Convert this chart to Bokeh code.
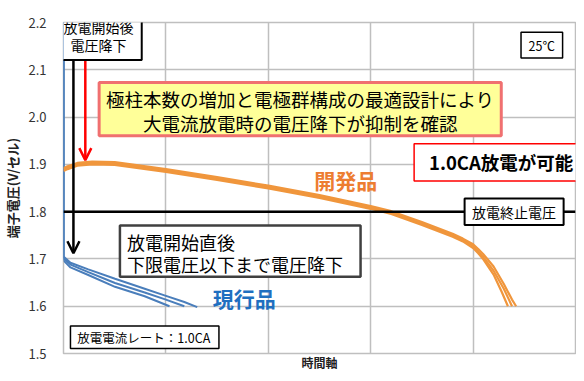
from bokeh.plotting import figure
from bokeh.models import (Range1d, FixedTicker, Label, Span, Arrow, OpenHead, BoxAnnotation)
from bokeh.embed import file_html
from bokeh.resources import INLINE

# ---------------- data ----------------
# time axis in arbitrary grid units (0..5), voltage in V/cell
Y_TICKS = [1.5, 1.6, 1.7, 1.8, 1.9, 2.0, 2.1, 2.2]
Y_TICK_LABELS = ["1.5", "1.6", "1.7", "1.8", "1.9", "2.0", "2.1", "2.2"]
X_GRID = [0, 1, 2, 3, 4, 5]
CUTOFF_V = 1.8

# 開発品 (new product) - three cells
dev_x1 = [0.0, 0.04, 0.135, 0.28, 0.5, 1.0, 1.5, 2.0, 2.5, 3.0, 3.2, 3.5, 3.8, 3.9, 4.0, 4.05, 4.1, 4.2, 4.28, 4.34]
dev_v1 = [1.886, 1.890, 1.897, 1.900, 1.899, 1.884, 1.867, 1.849, 1.829, 1.806, 1.795, 1.772, 1.747, 1.737, 1.723, 1.712, 1.699, 1.667, 1.630, 1.600]
dev_x2 = [0.0, 0.04, 0.135, 0.28, 0.5, 1.0, 1.5, 2.0, 2.5, 3.0, 3.2, 3.5, 3.8, 3.9, 4.0, 4.05, 4.1, 4.2, 4.3, 4.35, 4.38]
dev_v2 = [1.889, 1.893, 1.900, 1.903, 1.902, 1.887, 1.870, 1.852, 1.832, 1.809, 1.798, 1.775, 1.750, 1.740, 1.727, 1.716, 1.704, 1.675, 1.637, 1.614, 1.600]
dev_x3 = [0.0, 0.04, 0.135, 0.28, 0.5, 1.0, 1.5, 2.0, 2.5, 3.0, 3.2, 3.5, 3.8, 3.9, 4.0, 4.05, 4.1, 4.2, 4.3, 4.38, 4.42]
dev_v3 = [1.892, 1.896, 1.903, 1.906, 1.905, 1.890, 1.873, 1.855, 1.835, 1.812, 1.801, 1.778, 1.753, 1.743, 1.731, 1.721, 1.710, 1.684, 1.647, 1.614, 1.600]

# 現行品 (current product) - three cells
cur_x1 = [0.0, 0.0, 0.068, 0.242, 0.503, 0.793, 1.035]
cur_v1 = [2.2, 1.697, 1.682, 1.666, 1.641, 1.621, 1.600]
cur_x2 = [0.0, 0.0, 0.068, 0.242, 0.503, 0.793, 0.986, 1.18]
cur_v2 = [2.2, 1.701, 1.688, 1.672, 1.649, 1.629, 1.615, 1.600]
cur_x3 = [0.0, 0.0, 0.068, 0.242, 0.503, 0.793, 0.986, 1.18, 1.306]
cur_v3 = [2.2, 1.705, 1.692, 1.678, 1.658, 1.637, 1.623, 1.609, 1.598]

JP = "Noto Sans CJK JP"
ORANGE = "#F0963C"
BLUE = "#4A7EBB"

p = figure(width=576, height=373, output_backend="svg", toolbar_location=None,
           x_range=Range1d(0, 5), y_range=Range1d(1.5, 2.2),
           min_border_left=58, min_border_right=1, min_border_top=22, min_border_bottom=15,
           background_fill_color="white", border_fill_color="white")
p.outline_line_color = "#BFBFBF"
p.outline_line_width = 1.5

# x axis: title only
p.xaxis.ticker = FixedTicker(ticks=[])
p.xaxis.axis_line_color = None
p.xaxis.major_tick_out = 0
p.xaxis.major_tick_in = 0
p.xaxis.minor_tick_out = 0
p.xaxis.minor_tick_in = 0
p.xaxis.major_label_text_font_size = "1px"
p.xaxis.major_label_standoff = 0
p.xaxis.axis_label = "時間軸"
p.xaxis.axis_label_standoff = 0
p.xaxis.axis_label_text_font = JP
p.xaxis.axis_label_text_font_size = "12px"
p.xaxis.axis_label_text_font_style = "bold"
p.xaxis.axis_label_text_color = "#222222"

# y axis
p.yaxis.ticker = FixedTicker(ticks=Y_TICKS)
p.yaxis.major_label_overrides = {t: l for t, l in zip(Y_TICKS, Y_TICK_LABELS)}
p.yaxis.major_tick_out = 0
p.yaxis.major_tick_in = 0
p.yaxis.minor_tick_out = 0
p.yaxis.minor_tick_in = 0
p.yaxis.axis_line_color = None
p.yaxis.major_label_standoff = 17
p.yaxis.major_label_text_font = JP
p.yaxis.major_label_text_font_size = "13px"
p.yaxis.major_label_text_color = "#333333"
p.yaxis.axis_label = "端子電圧(V/セル)"
p.yaxis.axis_label_standoff = 3
p.yaxis.axis_label_text_font = JP
p.yaxis.axis_label_text_font_size = "13px"
p.yaxis.axis_label_text_font_style = "bold"
p.yaxis.axis_label_text_color = "#222222"

p.xgrid.ticker = FixedTicker(ticks=X_GRID)
p.ygrid.ticker = FixedTicker(ticks=Y_TICKS)
p.xgrid.grid_line_color = "#BFBFBF"
p.ygrid.grid_line_color = "#BFBFBF"
p.xgrid.grid_line_width = 1.5
p.ygrid.grid_line_width = 1.5

# cutoff voltage line
p.add_layout(Span(location=CUTOFF_V, dimension="width", line_color="black", line_width=2.5))

# curves
for xs, vs in [(cur_x1, cur_v1), (cur_x2, cur_v2), (cur_x3, cur_v3)]:
    p.line(xs, vs, line_color=BLUE, line_width=2)
for xs, vs in [(dev_x1, dev_v1), (dev_x2, dev_v2), (dev_x3, dev_v3)]:
    p.line(xs, vs, line_color=ORANGE, line_width=2.2)

# arrows
p.add_layout(Arrow(end=OpenHead(size=12, line_width=2.5, line_color="black"),
                   x_start=0.097, y_start=2.121, x_end=0.097, y_end=1.712,
                   line_color="black", line_width=2.5))
p.add_layout(Arrow(end=OpenHead(size=12, line_width=2.5, line_color="#FF0000"),
                   x_start=0.213, y_start=2.121, x_end=0.213, y_end=1.909,
                   line_color="#FF0000", line_width=2.5))


def rect(l, r, t, b, fill="white", line="black", lw=1.5):
    p.add_layout(BoxAnnotation(left=l, right=r, top=t, bottom=b,
                               fill_color=fill, fill_alpha=1.0,
                               line_color=line, line_width=lw, line_alpha=1.0))


def text(s, x, y, size, align="left", baseline="middle", bold=False, color="black", lh=1.2):
    p.add_layout(Label(x=x, y=y, text=s, text_font=JP, text_font_size=size,
                       text_align=align, text_baseline=baseline, text_color=color,
                       text_font_style="bold" if bold else "normal",
                       text_line_height=lh))


# 放電開始後 電圧降下
rect(-0.077, 0.764, 2.2146, 2.1208, lw=2)
text("放電開始後\n電圧降下", 0.343, 2.1708, "14px", align="center", lh=0.89)

# yellow message box
rect(0.348, 4.275, 2.0729, 1.9604, fill="#FFFF99", line="#F07070", lw=3)
text("極柱本数の増加と電極群構成の最適設計により\n大電流放電時の電圧降下が抑制を確認",
     2.311, 2.0125, "18.5px", align="center", lh=0.9)

# 1.0CA box (runs off the right edge)
rect(3.424, 5.4, 1.9438, 1.8646, line="#FF0000", lw=1.5)
text("1.0CA放電が可能", 3.569, 1.9042, "18.5px", bold=True)

# 25℃
rect(4.468, 4.874, 2.1792, 2.125, lw=1.5)
text("25℃", 4.671, 2.152, "12.5px", align="center")

# 放電終止電圧
rect(3.917, 4.884, 1.828, 1.772, lw=2)
text("放電終止電圧", 4.400, 1.800, "14px", align="center")

# 放電開始直後
rect(0.551, 2.901, 1.7708, 1.6625, line="#404040", lw=2.5)
text("放電開始直後\n下限電圧以下まで電圧降下", 0.619, 1.7125, "18px", lh=0.845)

# 放電電流レート
rect(0.068, 1.518, 1.5583, 1.5104, lw=1.5)
text("放電電流レート：1.0CA", 0.135, 1.5344, "12.5px")

# series labels
text("開発品", 2.756, 1.8667, "21px", align="center", bold=True, color="#ED7D31")
text("現行品", 1.765, 1.6167, "21px", align="center", bold=True, color="#1F6FC0")

open("out.html", "w").write(file_html(p, INLINE))
